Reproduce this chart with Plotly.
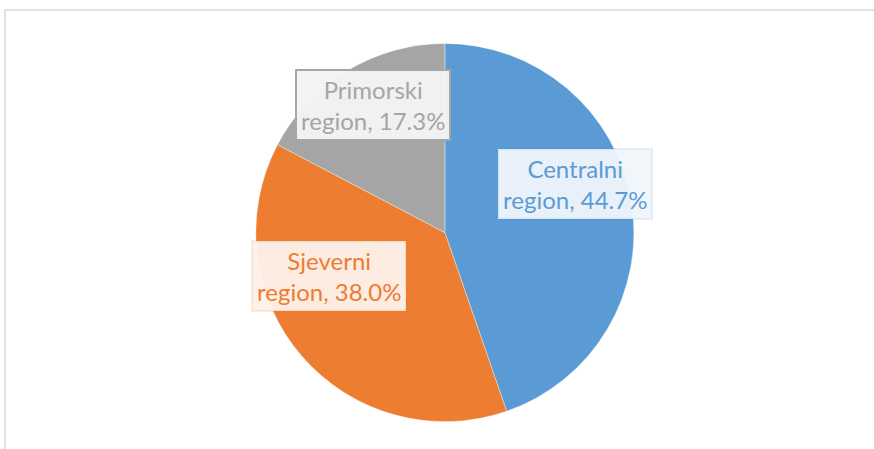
import plotly.graph_objects as go

categories = ["Centralni region", "Sjeverni region", "Primorski region"]
shares = [44.7, 38.0, 17.3]
colors = ["#5B9BD5", "#ED7D31", "#A5A5A5"]

W, H = 874, 449

fig = go.Figure(go.Pie(
    labels=categories,
    values=shares,
    sort=False,
    direction="clockwise",
    rotation=0,
    marker=dict(colors=colors, line=dict(color="rgba(255,255,255,0.35)", width=1)),
    textinfo="none",
    hoverinfo="label+percent",
    domain=dict(x=[0.018, 1.0], y=[0.061, 0.903]),
    showlegend=False,
))

# label boxes (text built from data)
label_style = [
    dict(x=575 / W, y=1 - 184 / H, font="#5B9BD5", bg="rgba(240,245,251,0.95)", border="rgba(91,155,213,0.15)"),
    dict(x=329 / W, y=1 - 276 / H, font="#ED7D31", bg="rgba(253,240,233,0.96)", border="rgba(237,125,49,0.15)"),
    dict(x=373 / W, y=1 - 105 / H, font="#A5A5A5", bg="rgba(244,244,244,0.96)", border="#A6A6A6"),
]
for cat, val, st in zip(categories, shares, label_style):
    name, reg = cat.split(" ")
    fig.add_annotation(
        x=st["x"], y=st["y"], xref="paper", yref="paper",
        xanchor="center", yanchor="middle",
        text=f"{name}<br>{reg}, {val:.1f}%",
        showarrow=False,
        font=dict(family="Lato, 'Open Sans', sans-serif", size=24, color=st["font"]),
        bgcolor=st["bg"], bordercolor=st["border"], borderwidth=2, borderpad=4,
        align="center",
    )

# chart-area frame (only top and left visible)
fig.add_shape(type="rect", xref="paper", yref="paper",
              x0=5 / W, x1=1.02, y0=-0.05, y1=1 - 10 / H,
              line=dict(color="#D9D9D9", width=1.5), fillcolor="rgba(0,0,0,0)", layer="below")

fig.update_layout(
    width=W, height=H,
    margin=dict(l=0, r=0, t=0, b=0),
    paper_bgcolor="white", plot_bgcolor="white",
)

fig.write_html("out.html", config={"displayModeBar": False},
               post_script="document.body.style.margin='0';")
